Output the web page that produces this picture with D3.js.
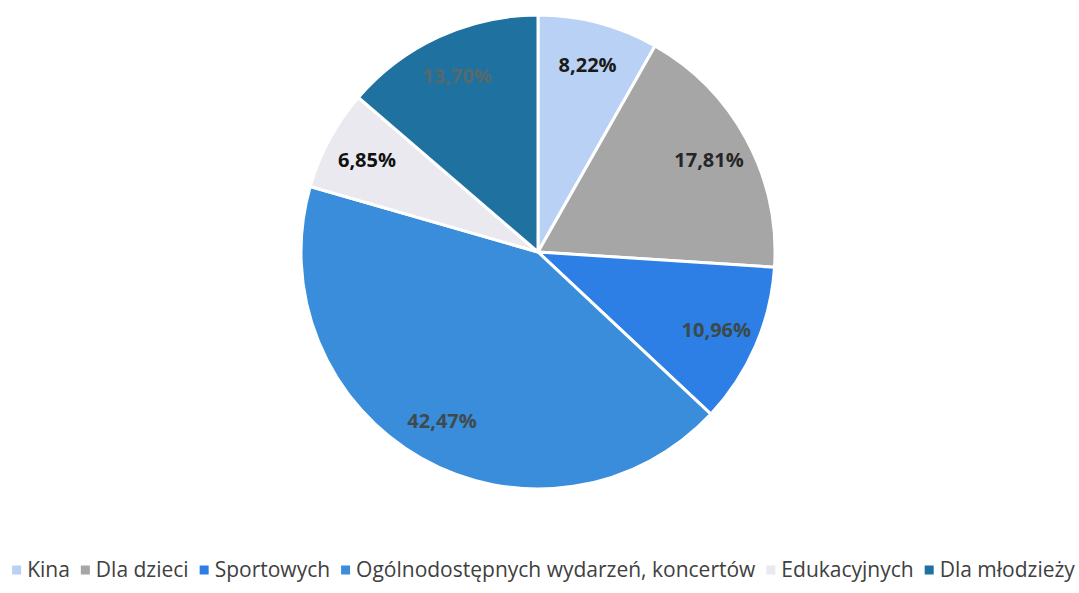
<!DOCTYPE html>
<html lang="pl">
<head>
<meta charset="utf-8">
<script src="https://cdn.jsdelivr.net/npm/d3@7"></script>
<style>
  html, body { margin: 0; padding: 0; background: #ffffff; }
  svg { display: block; }
</style>
</head>
<body>
<svg id="chart" width="1079" height="593"></svg>
<script>
// Udział wydarzeń według rodzaju (%)
const categories = ["Kina", "Dla dzieci", "Sportowych", "Ogólnodostępnych wydarzeń, koncertów", "Edukacyjnych", "Dla młodzieży"];
const shares = [8.22, 17.81, 10.96, 42.47, 6.85, 13.70];
const sliceColors = ["#b9d1f4", "#a6a6a6", "#2d7fe6", "#3a8ddb", "#e9e9ef", "#1f71a0"];
const labelColors = ["#1a1a1a", "#262626", "#3b4a48", "#3f4a4c", "#111111", "#566a6a"];

const width = 1079, height = 593;
const cx = 538, cy = 252, radius = 237;

const svg = d3.select("#chart");

const rows = categories.map((name, i) => ({ name, value: shares[i], i }));

const pie = d3.pie().value(d => d.value).sort(null);
const arc = d3.arc().innerRadius(0).outerRadius(radius);
const labelArc = d3.arc().innerRadius(radius * 0.82).outerRadius(radius * 0.82);

const g = svg.append("g").attr("transform", `translate(${cx},${cy})`);
const arcs = pie(rows);

g.selectAll("path.slice")
  .data(arcs)
  .join("path")
  .attr("class", "slice")
  .attr("d", arc)
  .attr("fill", d => sliceColors[d.data.i])
  .attr("stroke", "#ffffff")
  .attr("stroke-width", 3)
  .attr("stroke-linejoin", "round");

const fmt = v => v.toFixed(2).replace(".", ",") + "%";

g.selectAll("text.value")
  .data(arcs)
  .join("text")
  .attr("class", "value")
  .attr("transform", d => `translate(${labelArc.centroid(d)})`)
  .attr("text-anchor", "middle")
  .attr("dominant-baseline", "central")
  .attr("font-family", "'Open Sans', 'DejaVu Sans', sans-serif")
  .attr("font-weight", 700)
  .attr("font-size", 20)
  .attr("fill", d => labelColors[d.data.i])
  .text(d => fmt(d.data.value));

// Legenda w jednym wierszu, wyśrodkowana
const legend = svg.append("g").attr("transform", `translate(0, 569)`);
const fontSize = 21;
const marker = 9, gapMarker = 6, gapItem = 11;
const items = legend.selectAll("g.item")
  .data(rows)
  .join("g")
  .attr("class", "item");

items.append("rect")
  .attr("width", marker)
  .attr("height", marker)
  .attr("y", -marker / 2 + 1)
  .attr("fill", d => sliceColors[d.i]);

items.append("text")
  .attr("x", marker + gapMarker)
  .attr("dominant-baseline", "central")
  .attr("font-family", "'Open Sans', 'Noto Sans', sans-serif")
  .attr("font-size", fontSize)
  .attr("fill", "#404040")
  .text(d => d.name);

const widths = [];
items.each(function () {
  widths.push(d3.select(this).select("text").node().getComputedTextLength());
});
const itemWidths = widths.map(w => marker + gapMarker + w);
const total = d3.sum(itemWidths) + gapItem * (itemWidths.length - 1);
let x = (width - total) / 2 + 4;
items.attr("transform", (d, i) => {
  const t = `translate(${x},0)`;
  x += itemWidths[i] + gapItem;
  return t;
});
</script>
</body>
</html>
